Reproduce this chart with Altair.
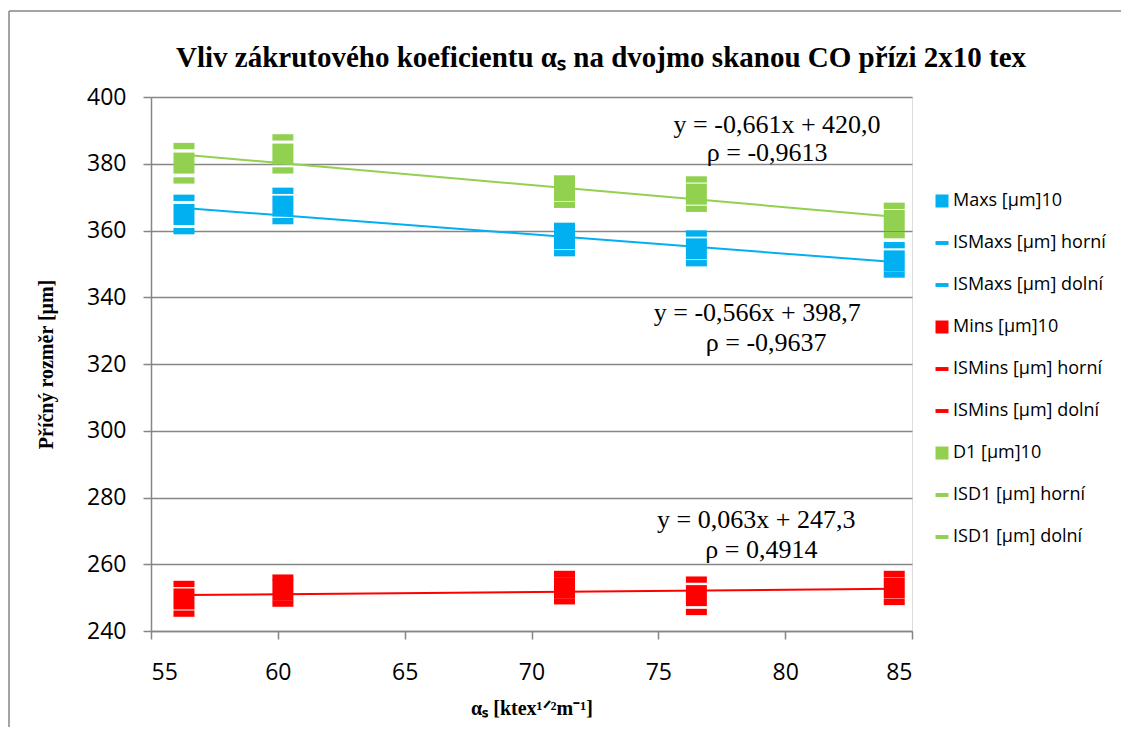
import altair as alt
import pandas as pd

# ---------------- data ----------------
alpha_s = [56.3, 60.2, 71.3, 76.5, 84.3]

maxs = [364.8, 367.3, 357.5, 354.5, 350.9]
maxs_upper = [369.8, 371.9, 361.4, 359.1, 355.6]
maxs_lower = [359.8, 362.8, 353.2, 350.2, 346.8]

mins = [249.6, 252.2, 253.0, 250.6, 252.9]
mins_upper = [254.1, 256.0, 257.1, 255.4, 257.1]
mins_lower = [245.2, 248.2, 248.9, 245.7, 248.7]

d1 = [380.2, 382.9, 372.0, 370.9, 363.0]
d1_upper = [385.3, 387.9, 375.6, 375.3, 367.4]
d1_lower = [375.0, 378.0, 367.7, 366.5, 358.6]

series_names = [
    "Maxs [μm]10", "ISMaxs [μm] horní", "ISMaxs [μm] dolní",
    "Mins [μm]10", "ISMins [μm] horní", "ISMins [μm] dolní",
    "D1 [μm]10", "ISD1 [μm] horní", "ISD1 [μm] dolní",
]
series_values = [maxs, maxs_upper, maxs_lower,
                 mins, mins_upper, mins_lower,
                 d1, d1_upper, d1_lower]
series_group = ["Maxs"] * 3 + ["Mins"] * 3 + ["D1"] * 3
series_kind = ["mean", "upper", "lower"] * 3

eq_labels = ["y = -0,661x + 420,0", "ρ = -0,9613",
             "y = -0,566x + 398,7", "ρ = -0,9637",
             "y = 0,063x + 247,3", "ρ = 0,4914"]
eq_x = [79.68, 79.29, 78.90, 79.25, 78.86, 79.06]
eq_y = [391.5, 383.1, 335.2, 326.2, 273.4, 264.4]

title_text = "Vliv zákrutového koeficientu αₛ na dvojmo skanou CO přízi 2x10 tex"

x_ticks = [55, 60, 65, 70, 75, 80, 85]
y_ticks = [240, 260, 280, 300, 320, 340, 360, 380, 400]

# ---------------- styles ----------------
BLUE, RED, GREEN = "#00B0F0", "#FF0000", "#92D050"
group_colors = {"Maxs": BLUE, "Mins": RED, "D1": GREEN}
series_colors = [BLUE] * 3 + [RED] * 3 + [GREEN] * 3
DASH = "M-1,-0.3L1,-0.3L1,0.3L-1,0.3Z"
SQUARE = "M-1,-1L1,-1L1,1L-1,1Z"
series_shapes = [SQUARE, DASH, DASH] * 3
GRID = "#868686"

rows = []
for i, (name, vals) in enumerate(zip(series_names, series_values)):
    for j, (x, y) in enumerate(zip(alpha_s, vals)):
        rows.append({"x": x, "y": y, "series": name, "group": series_group[i],
                     "kind": series_kind[i], "order": i * 10 + j})
df = pd.DataFrame(rows)
ann = pd.DataFrame({"x": eq_x, "y": eq_y, "label": eq_labels})

x_enc = alt.X("x:Q", scale=alt.Scale(domain=[55, 85], nice=False, zero=False),
              axis=alt.Axis(values=x_ticks, grid=False, domainColor=GRID, domainWidth=1.5,
                            tickColor=GRID, tickWidth=1.5, tickSize=8,
                            labelFont="Open Sans", labelFontSize=23, labelColor="black",
                            labelPadding=22,
                            title="αₛ [ktex¹ᐟ²m⁻¹]", titleFont="Liberation Serif",
                            titleFontSize=20, titleFontWeight="bold", titleColor="black",
                            titlePadding=14))
y_enc = alt.Y("y:Q", scale=alt.Scale(domain=[240, 400], nice=False, zero=False),
              axis=alt.Axis(values=y_ticks, grid=True, gridColor=GRID, gridWidth=1.5,
                            domainColor=GRID, domainWidth=1.5,
                            tickColor=GRID, tickWidth=1.5, tickSize=8,
                            labelFont="Open Sans", labelFontSize=23, labelColor="black",
                            labelPadding=17,
                            title="Příčný rozměr [μm]", titleFont="Liberation Serif",
                            titleFontSize=20, titleFontWeight="bold", titleColor="black",
                            titlePadding=30))

legend = alt.Legend(title=None, orient="none", legendX=782, legendY=95,
                    labelFont="Open Sans", labelFontSize=18, labelColor="black",
                    symbolSize=169, rowPadding=24, labelOffset=2,
                    symbolStrokeWidth=0, symbolOpacity=1)

trends = [
    alt.Chart(df).transform_filter(
        (alt.datum.kind == "mean") & (alt.datum.group == g)
    ).transform_regression("x", "y").mark_line(strokeWidth=2, color=c).encode(x=x_enc, y=y_enc)
    for g, c in group_colors.items()
]

points = alt.Chart(df).mark_point(filled=True, size=441, opacity=1).encode(
    x=x_enc, y=y_enc,
    color=alt.Color("series:N", scale=alt.Scale(domain=series_names, range=series_colors),
                    legend=legend),
    shape=alt.Shape("series:N", scale=alt.Scale(domain=series_names, range=series_shapes),
                    legend=legend),
    order=alt.Order("order:Q"),
)

labels = alt.Chart(ann).mark_text(font="Liberation Serif", fontSize=26, color="black",
                                  align="center", baseline="middle").encode(
    x=alt.X("x:Q"), y=alt.Y("y:Q"), text="label:N")

one = pd.DataFrame({"t": [title_text]})
title = alt.Chart(one).mark_text(font="Liberation Serif", fontSize=29, fontWeight="bold",
                                 color="black", align="center", baseline="alphabetic").encode(
    x=alt.value(450), y=alt.value(-30), text="t:N")

border = alt.Chart(one).mark_rule(color=GRID, strokeWidth=1.5).encode(
    x=alt.value(-142), y=alt.value(-86), y2=alt.value(640))
border_top = alt.Chart(one).mark_rule(color=GRID, strokeWidth=1.5).encode(
    x=alt.value(-142), x2=alt.value(1000), y=alt.value(-86))

chart = alt.layer(border, border_top, *trends, points, labels, title).properties(
    width=761, height=534,
    autosize=alt.AutoSizeParams(type="none"),
    padding={"left": 143, "top": 89, "right": 209, "bottom": 96},
).configure_view(stroke=None).configure(background="white")

chart.save("out.html", embed_options={"renderer": "svg", "actions": False})
